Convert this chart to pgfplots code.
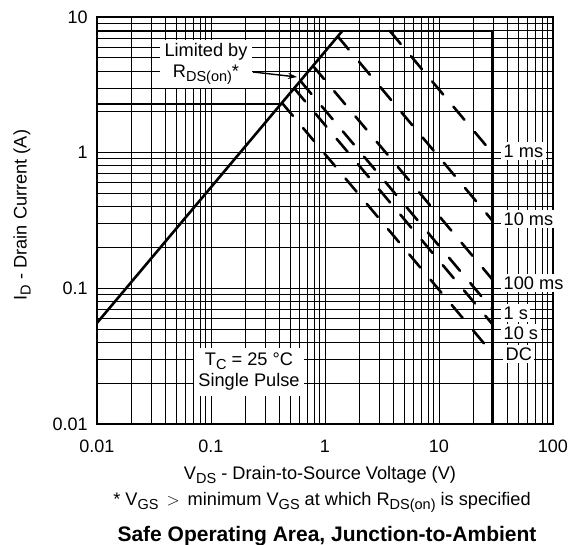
\documentclass[border=0pt]{standalone}
\usepackage{fontspec}
\setmainfont{Liberation Sans}
\usepackage{pgfplots}
\pgfplotsset{compat=1.18}
\usetikzlibrary{arrows.meta}
\newcommand{\sub}[1]{\raisebox{-4bp}{\fontsize{14.5bp}{14.5bp}\selectfont #1}}
\pgfplotsset{
  soa/.style={black, line width=2.6bp},
  sdash/.style={black, line width=2.6bp, dash pattern=on 17bp off 16bp, line cap=round},
}
\begin{document}
\fontsize{18.2bp}{21bp}\selectfont
\begin{tikzpicture}
\useasboundingbox (-97bp,-121bp) rectangle (475bp,424bp);
\begin{axis}[
  at={(0,0)}, anchor=south west,
  scale only axis, width=456bp, height=407bp,
  xmode=log, ymode=log,
  xmin=0.01, xmax=100, ymin=0.01, ymax=10,
  xtick={0.01,0.1,1,10,100}, xticklabels={0.01,0.1,1,10,100},
  ytick={0.01,0.1,1,10}, yticklabels={0.01,0.1,1,10},
  minor xtick={0.02,0.03,0.04,0.05,0.06,0.07,0.08,0.09,0.2,0.3,0.4,0.5,0.6,0.7,0.8,0.9,2,3,4,5,6,7,8,9,20,30,40,50,60,70,80,90},
  minor ytick={0.02,0.03,0.04,0.05,0.06,0.07,0.08,0.09,0.2,0.3,0.4,0.5,0.6,0.7,0.8,0.9,2,3,4,5,6,7,8,9},
  grid=both,
  major grid style={black, line width=0.8bp},
  minor grid style={black, line width=0.8bp},
  major tick length=0pt, minor tick length=0pt,
  axis line style={line width=1.6bp},
  tick label style={font=\fontsize{18bp}{21bp}\selectfont},
  xticklabel style={yshift=-10bp},
  yticklabel style={xshift=-3bp},
]
% R_DS(on) limit
\addplot[soa] coordinates {(0.01,0.0556) (1.42,7.9)};
% current and voltage limits
\addplot[soa] coordinates {(0.01,7.9) (29.2,7.9) (29.2,0.01)};
\addplot[soa] coordinates {(0.01,2.28) (0.41,2.28)};
% pulse lines
\addplot[sdash] coordinates {(3.70,7.9) (29.2,1.0)};     % 1 ms
\addplot[sdash] coordinates {(1.294,7.19) (29.2,0.318)}; % 10 ms
\addplot[sdash] coordinates {(0.785,4.36) (29.2,0.117)}; % 100 ms
\addplot[sdash] coordinates {(0.609,3.38) (29.2,0.0705)};% 1 s
\addplot[sdash] coordinates {(0.537,2.98) (29.2,0.0548)};% 10 s
\addplot[sdash] coordinates {(0.419,2.33) (29.2,0.0334)};% DC
\end{axis}
\node[fill=white, align=center, inner xsep=5bp, inner ysep=3bp] at (109bp,360bp) {Limited by\\R\sub{DS(on)}*};
\draw[-{Stealth[length=9bp,width=6bp]}, line width=1.4bp] (156bp,352bp) -- (200bp,347bp);
\node[fill=white, align=center, inner xsep=4bp, inner ysep=5bp] at (152bp,52bp) {T\sub{C} = 25 °C\\Single Pulse};
\node[fill=white, anchor=west, inner sep=2.5bp] at (404bp,273bp) {1 ms};
\node[fill=white, anchor=west, inner sep=2.5bp] at (404bp,205bp) {10 ms};
\node[fill=white, anchor=west, inner sep=2.5bp] at (404bp,141bp) {100 ms};
\node[fill=white, anchor=west, inner sep=2.5bp] at (404bp,111bp) {1 s};
\node[fill=white, anchor=west, inner sep=2.5bp] at (404bp,91bp) {10 s};
\node[fill=white, anchor=west, inner sep=2.5bp] at (406bp,70bp) {DC};
\node at (223bp,-51.4bp) {V\sub{DS} - Drain-to-Source Voltage (V)};
\node at (225bp,-78bp) {* V\sub{GS}\hspace{3bp} $>$ \hspace{3bp}minimum V\sub{GS} at which R\sub{DS(on)} is specified};
\node at (230bp,-112.5bp) {\fontsize{21bp}{24bp}\selectfont\bfseries Safe Operating Area, Junction-to-Ambient};
\node[rotate=90] at (-75bp,209bp) {I\sub{D} - Drain Current (A)};
\end{tikzpicture}
\end{document}
